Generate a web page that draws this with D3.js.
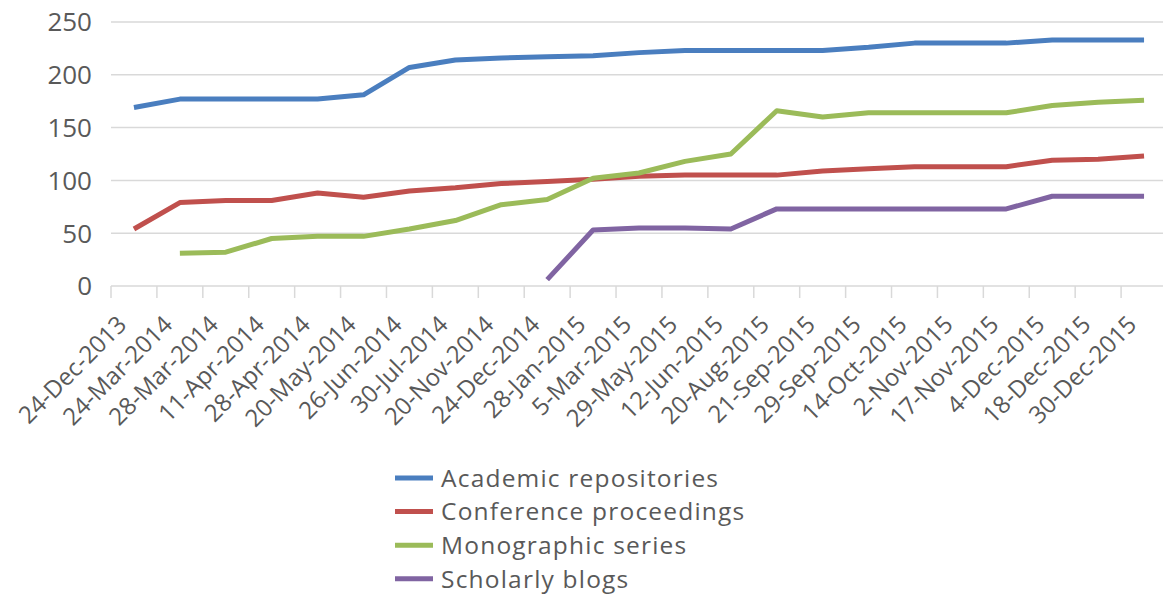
<!DOCTYPE html>
<html>
<head>
<meta charset="utf-8">
<script src="https://cdn.jsdelivr.net/npm/d3@7"></script>
<style>
  body { margin: 0; background: #fff; }
  text { font-family: "Open Sans", sans-serif; fill: #595959; }
</style>
</head>
<body>
<div id="chart"></div>
<script>
// dates on the category axis
var dates = ["24-Dec-2013", "24-Mar-2014", "28-Mar-2014", "11-Apr-2014", "28-Apr-2014",
  "20-May-2014", "26-Jun-2014", "30-Jul-2014", "20-Nov-2014", "24-Dec-2014",
  "28-Jan-2015", "5-Mar-2015", "29-May-2015", "12-Jun-2015", "20-Aug-2015",
  "21-Sep-2015", "29-Sep-2015", "14-Oct-2015", "2-Nov-2015", "17-Nov-2015",
  "4-Dec-2015", "18-Dec-2015", "30-Dec-2015"];

var academic = [169, 177, 177, 177, 177, 181, 207, 214, 216, 217, 218, 221, 223, 223,
  223, 223, 226, 230, 230, 230, 233, 233, 233];
var conference = [54, 79, 81, 81, 88, 84, 90, 93, 97, 99, 101, 104, 105, 105, 105,
  109, 111, 113, 113, 113, 119, 120, 123];
var monographic = [null, 31, 32, 45, 47, 47, 54, 62, 77, 82, 102, 107, 118, 125, 166,
  160, 164, 164, 164, 164, 171, 174, 176];
var blogs = [null, null, null, null, null, null, null, null, null, 6, 53, 55, 55, 54,
  73, 73, 73, 73, 73, 73, 85, 85, 85];

var seriesNames = ["Academic repositories", "Conference proceedings", "Monographic series", "Scholarly blogs"];
var colors = ["#4a7ebf", "#c0504d", "#9bbb59", "#8064a2"];
var yTicks = [0, 50, 100, 150, 200, 250];

var W = 1163, H = 597;
var svg = d3.select("#chart").append("svg")
  .attr("width", W).attr("height", H);

var x = d3.scaleBand().domain(dates).range([111, 1167]).padding(0);
var y = d3.scaleLinear().domain([0, 250]).range([286, 22]);

// gridlines
svg.append("g").selectAll("line")
  .data(yTicks.filter(function(d) { return d > 0; }))
  .enter().append("line")
  .attr("x1", 111).attr("x2", W)
  .attr("y1", function(d) { return y(d); })
  .attr("y2", function(d) { return y(d); })
  .style("stroke", "#d9d9d9").style("stroke-width", 1.5);

// y labels
svg.append("g").selectAll("text")
  .data(yTicks)
  .enter().append("text")
  .attr("x", 92)
  .attr("y", function(d) { return y(d); })
  .attr("dy", "0.36em")
  .attr("text-anchor", "end")
  .style("font-size", "26px")
  .text(function(d) { return d; });

// x axis line and ticks on band edges
svg.append("line")
  .attr("x1", 111).attr("x2", W)
  .attr("y1", y(0)).attr("y2", y(0))
  .style("stroke", "#d9d9d9").style("stroke-width", 1.5);

var edges = dates.map(function(d) { return x(d); }).concat([x.range()[1]]);
svg.append("g").selectAll("line")
  .data(edges)
  .enter().append("line")
  .attr("x1", function(d) { return d; }).attr("x2", function(d) { return d; })
  .attr("y1", y(0)).attr("y2", y(0) + 12)
  .style("stroke", "#d9d9d9").style("stroke-width", 1.5);

// x labels
svg.append("g").selectAll("text")
  .data(dates)
  .enter().append("text")
  .attr("text-anchor", "end")
  .attr("transform", function(d) {
    return "translate(" + (x(d) + x.bandwidth() / 2 - 6) + "," + 326 + ") rotate(-45)";
  })
  .style("font-size", "24px")
  .text(function(d) { return d; });

// lines
var allSeries = [academic, conference, monographic, blogs];
var line = d3.line()
  .defined(function(d) { return d != null; })
  .x(function(d, i) { return x(dates[i]) + x.bandwidth() / 2; })
  .y(function(d) { return y(d); });

svg.append("g").selectAll("path")
  .data(allSeries)
  .enter().append("path")
  .attr("d", line)
  .style("fill", "none")
  .style("stroke", function(d, i) { return colors[i]; })
  .style("stroke-width", 5)
  .style("stroke-linejoin", "round");

// legend
var legend = svg.append("g").selectAll("g")
  .data(seriesNames)
  .enter().append("g")
  .attr("transform", function(d, i) { return "translate(395," + (478 + i * 33.6) + ")"; });

legend.append("line")
  .attr("x1", 0).attr("x2", 38)
  .style("stroke", function(d, i) { return colors[i]; })
  .style("stroke-width", 5);

legend.append("text")
  .attr("x", 46)
  .attr("dy", "0.36em")
  .style("font-size", "24.5px")
  .style("letter-spacing", "1.2px")
  .text(function(d) { return d; });
</script>
</body>
</html>
